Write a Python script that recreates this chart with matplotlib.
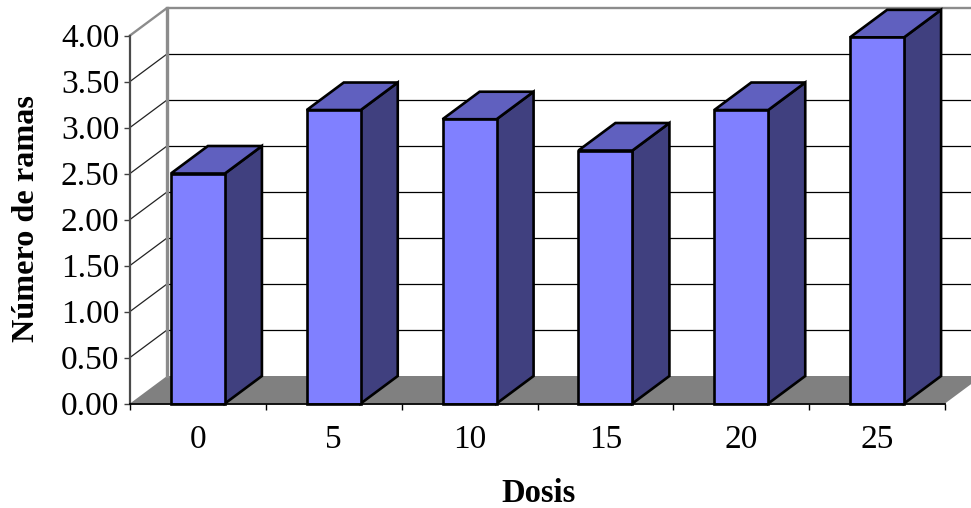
import matplotlib
matplotlib.use("Agg")
import matplotlib.pyplot as plt
from matplotlib.patches import Polygon

categories = ["0", "5", "10", "15", "20", "25"]
values = [2.50, 3.19, 3.09, 2.75, 3.19, 3.98]
y_ticks = [0, 0.5, 1, 1.5, 2, 2.5, 3, 3.5, 4]

W, H = 971, 508
X0, X1, Y0, Y1 = 130.0, 945.0, 403.5, 35.5
DX_PX, DY_PX = 37, 27.5

plt.rcParams["font.family"] = ["Liberation Serif", "DejaVu Serif"]
fig = plt.figure(figsize=(W / 100, H / 100), dpi=100)
ax = fig.add_axes([X0 / W, 1 - Y0 / H, (X1 - X0) / W, (Y0 - Y1) / H])
ax.set_xlim(0, len(categories))
ax.set_ylim(0, 4)
ax.patch.set_alpha(0)

# depth of the 3D box in data units
dx = DX_PX / ((X1 - X0) / len(categories))
dy = DY_PX / ((Y0 - Y1) / 4)
n = len(categories)

GRAY = "#8c8c8c"
# floor
ax.add_patch(Polygon([(0, 0), (n, 0), (n + dx, dy), (dx, dy)], closed=True,
                     facecolor="#808080", edgecolor="none", clip_on=False, zorder=1))
# gridlines on side wall and back wall
for t in y_ticks[1:-1]:
    ax.plot([0, dx], [t, t + dy], color="#222222", lw=0.9, clip_on=False, zorder=1.5)
    ax.plot([dx, n + dx], [t + dy, t + dy], color="black", lw=0.9, clip_on=False, zorder=1.5)
# wall outline
ax.plot([0, dx, n + dx], [4, 4 + dy, 4 + dy], color=GRAY, lw=1.7, clip_on=False, zorder=1.6)
ax.plot([dx, dx], [dy, 4 + dy], color=GRAY, lw=2.4, clip_on=False, zorder=1.6)

# bars
bw = 54 / ((X1 - X0) / n)
for i, v in enumerate(values):
    l = i + 0.5 - bw / 2
    r = l + bw
    z = 3 + i * 0.1
    kw = dict(closed=True, edgecolor="black", lw=1.9, clip_on=False, zorder=z, joinstyle="miter")
    ax.add_patch(Polygon([(r, 0), (r + dx, dy), (r + dx, v + dy), (r, v)], facecolor="#40407f", **kw))
    ax.add_patch(Polygon([(l, v), (r, v), (r + dx, v + dy), (l + dx, v + dy)], facecolor="#6060bf", **kw))
    ax.add_patch(Polygon([(l, 0), (r, 0), (r, v), (l, v)], facecolor="#8080ff", **kw))

# axes
for s in ("top", "right"):
    ax.spines[s].set_visible(False)
ax.spines["left"].set_color("#4a4a4a")
ax.spines["left"].set_linewidth(1.6)
ax.spines["bottom"].set_linewidth(1.3)
ax.spines["left"].set_zorder(2)
ax.spines["bottom"].set_zorder(4)
ax.set_yticks(y_ticks)
ax.set_yticklabels([f"{t:.2f}" for t in y_ticks])
ax.set_xticks(range(n + 1))
ax.set_xticklabels([])
ax.set_xticks([i + 0.5 for i in range(n)], labels=categories, minor=True)
ax.tick_params(axis="x", which="major", length=4.6, width=1, direction="out")
ax.tick_params(axis="x", which="minor", length=0, labelsize=24, pad=15)
ax.tick_params(axis="y", length=4.6, width=1, labelsize=24, pad=3, color="#404040")

fig.text(538 / W, 1 - 493.5 / H, "Dosis", fontsize=23.5, fontweight="bold", ha="center", va="center")
fig.text(27 / W, 1 - 219 / H, "Número de ramas", fontsize=23.2, fontweight="bold",
         rotation=90, ha="center", va="center")

fig.savefig("out.png", dpi=100)
